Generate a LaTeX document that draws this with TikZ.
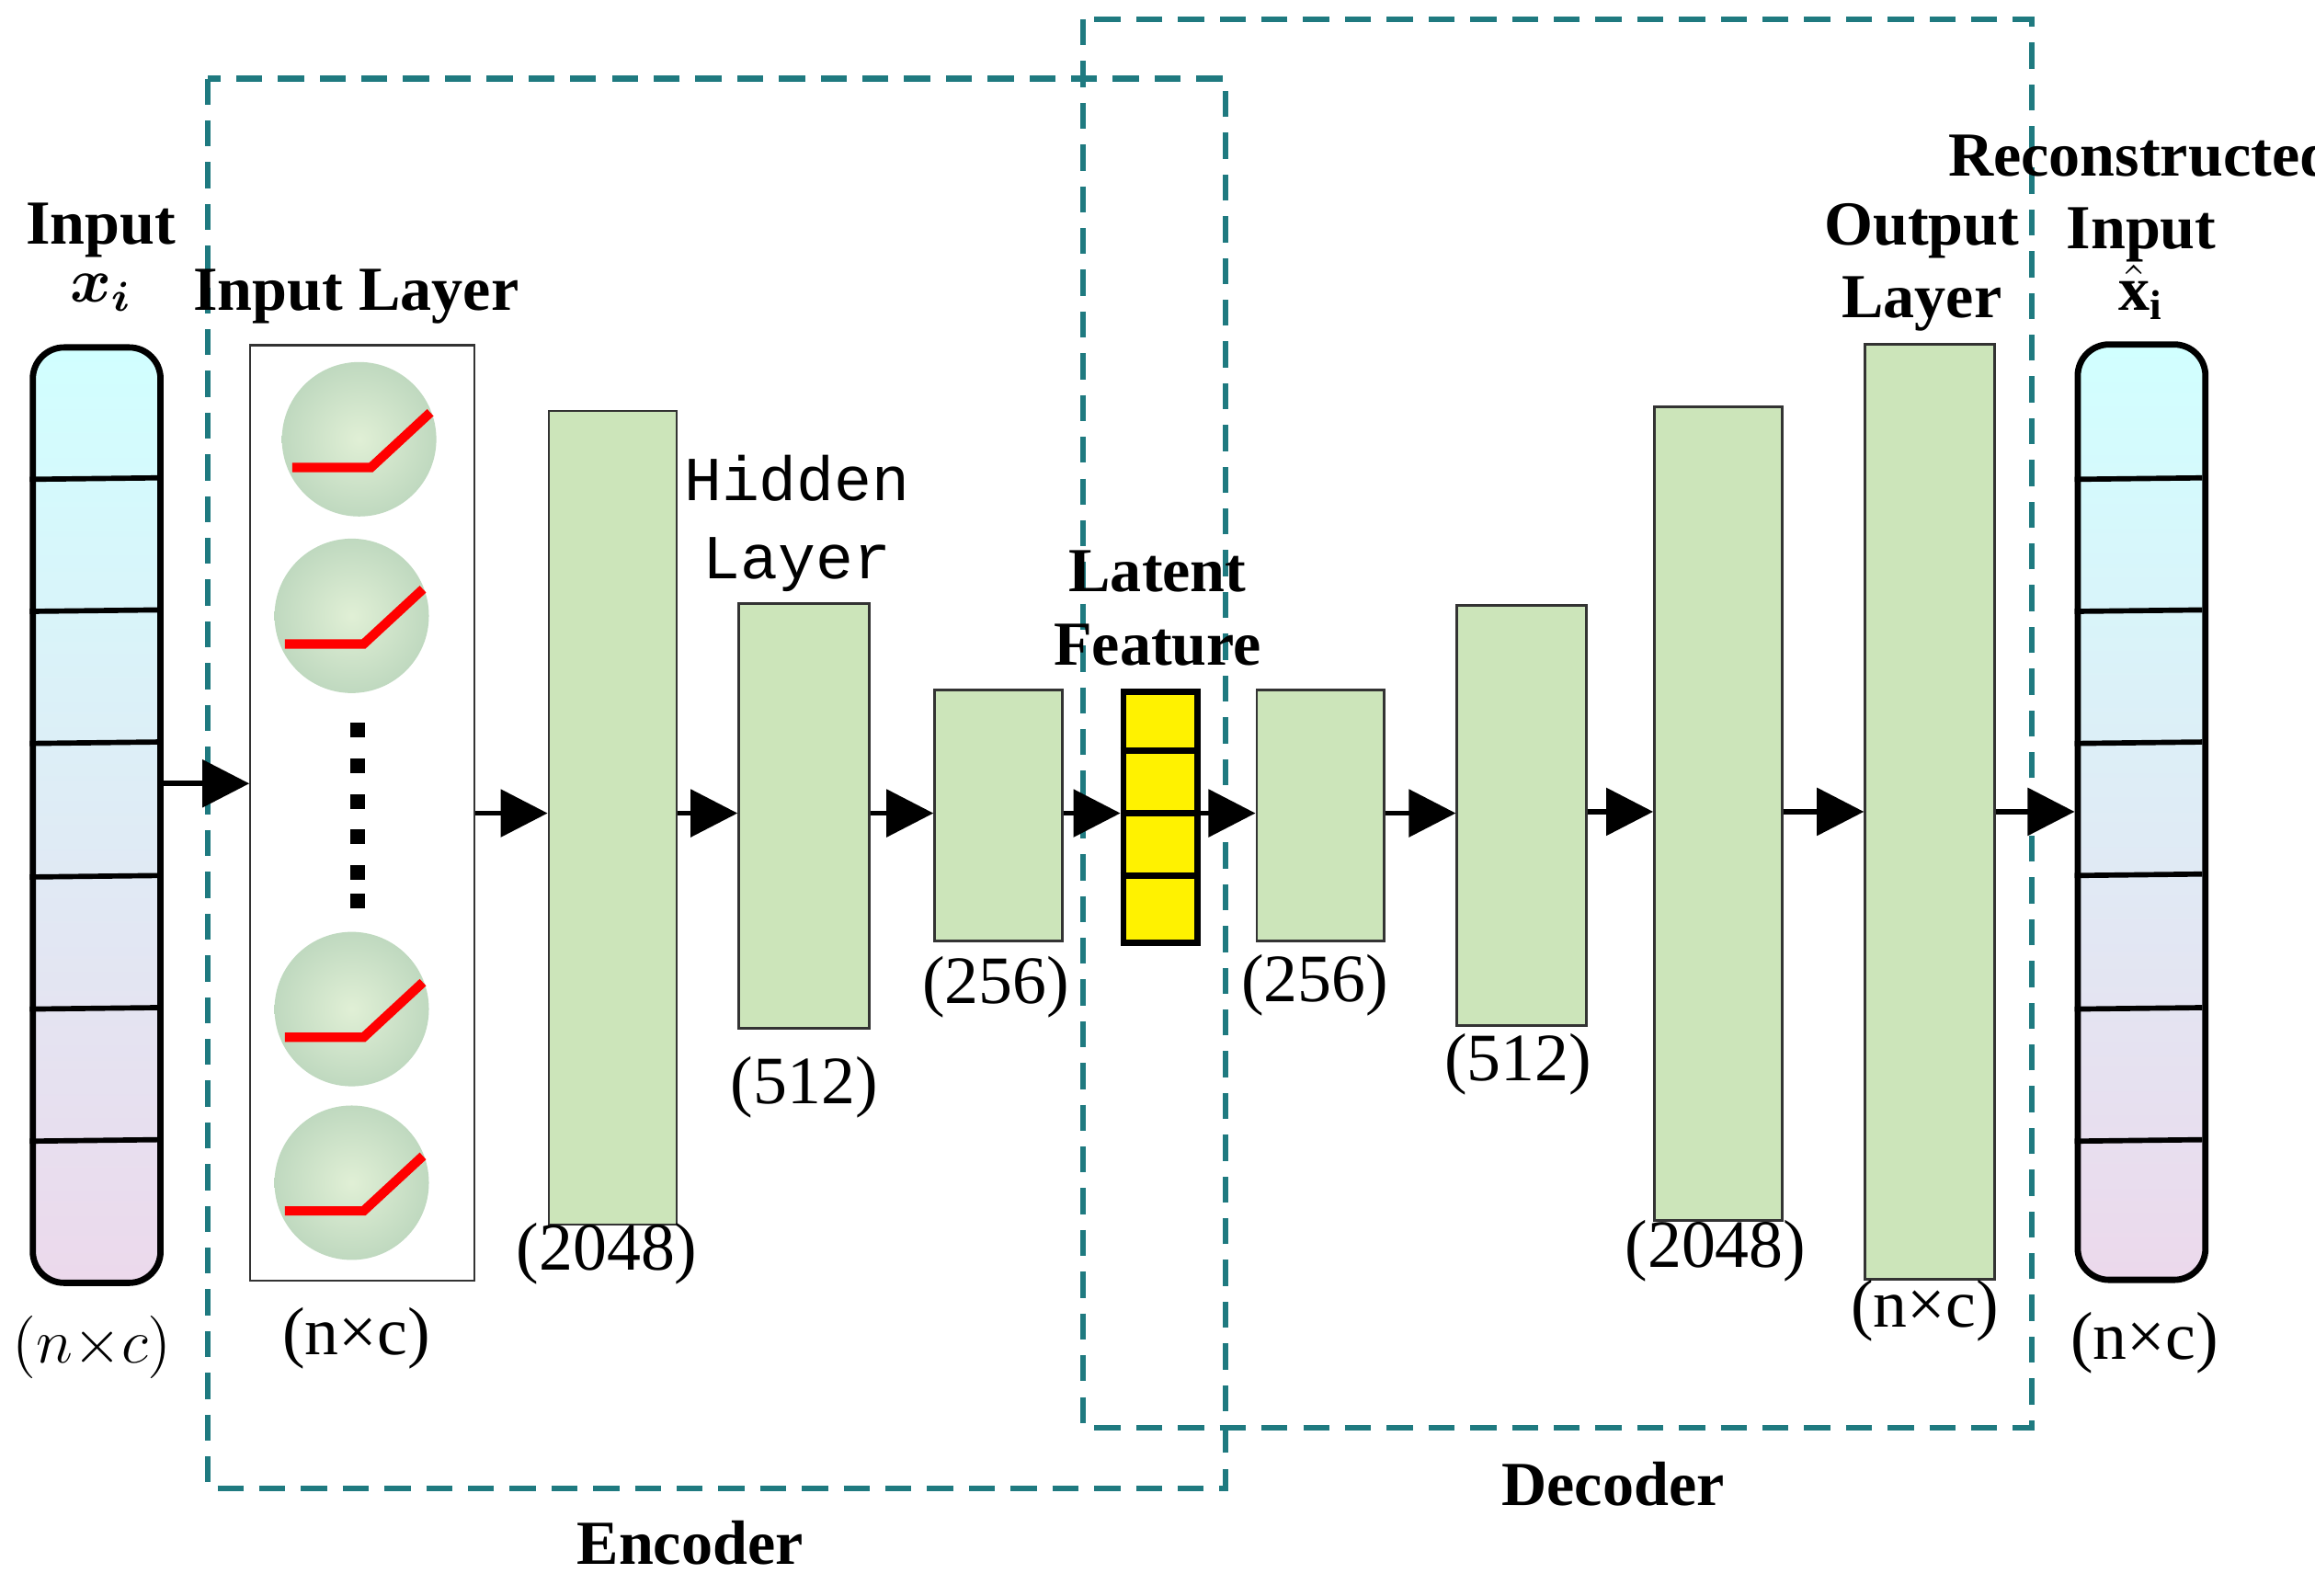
\documentclass[tikz,border=0pt]{standalone}
\usepackage{amsmath,bm}
\usepackage{fontspec}
\setmainfont{Liberation Serif}
\newfontfamily\hidfont{Liberation Mono}
\usetikzlibrary{arrows.meta,calc}
\definecolor{lg}{HTML}{CCE5BA}
\definecolor{teal}{HTML}{1F7A80}
\begin{document}
\begin{tikzpicture}[x=0.01cm,y=-0.01cm,
  layer/.style={draw=black!80,fill=lg,line width=0.5pt,anchor=north west,inner sep=0},
  bar/.style={draw=black,line width=1.2pt,rounded corners=6pt,anchor=north west,inner sep=0,top color=cyan!18,bottom color=violet!15},
  dbox/.style={draw=teal,dashed,line width=1.1pt,dash pattern=on 5pt off 3pt},
  arr/.style={-{Triangle[length=9pt,width=9pt]},line width=1pt},
  lab/.style={font=\fontsize{12}{14}\selectfont\bfseries,align=center},
  num/.style={font=\fontsize{13}{15}\selectfont},
  circ/.style={inner sep=0,minimum width=1.04cm,minimum height=1.0cm,circle,inner color=lg!60,outer color=green!40!black!25}]
\useasboundingbox (0,0) rectangle (1560,1075);
% dashed boxes
\draw[dbox] (140,53) rectangle (826,1003);
\draw[dbox] (730,13) rectangle (1369,962);
\node[lab] (enc) at (465,1040) {Encoder};
\node[lab] (dec) at (1087,1000) {Decoder};
% input bar
\node[bar,minimum width=0.86cm,minimum height=6.3cm] (inb) at (20,232) {};
\foreach \y in {323,412,501,591,680,769}{\draw[line width=1pt] (20,\y) -- (106,\y-1);}
\node[lab] (inl) at (68,155) {Input};
\node[lab] (inx) at (68,197) {$\bm{x_i}$};
\node[num] (inn) at (62,908) {$(n{\times}c)$};
% input layer
\node[draw=black!80,fill=white,anchor=north west,inner sep=0,minimum width=1.51cm,minimum height=6.3cm] (il) at (168,232) {};
\node[lab] (ill) at (240,200) {Input Layer};
\foreach \cx/\cy/\n in {242/296/c1,237/415/c2,237/680/c3,237/797/c4}{
  \node[circ] (\n) at (\cx,\cy) {};
  \draw[red,line width=1.8pt] (\cx-45,\cy+19) -- (\cx+8,\cy+19) -- (\cx+48,\cy-18);}
\foreach \y in {492,516,540,564,588,607}{\fill (236,\y-5) rectangle (246,\y+5);}
\node[num] (iln) at (240,902) {(n×c)};
% encoder layers
\node[layer,minimum width=0.86cm,minimum height=5.48cm] (e1) at (369,276) {};
\node[num] at (409,845) {(2048)};
\node[layer,minimum width=0.88cm,minimum height=2.86cm] (e2) at (497,406) {};
\node[font=\fontsize{12}{15}\selectfont\hidfont,align=center] at (537,353) {Hidden\\Layer};
\node[num] at (542,733) {(512)};
\node[layer,minimum width=0.86cm,minimum height=1.69cm] (e3) at (629,464) {};
\node[num] at (671,665) {(256)};
% latent
\node[draw=black,line width=1.2pt,fill=yellow,anchor=north west,inner sep=0,minimum width=0.5cm,minimum height=1.69cm] (lat) at (755,464) {};
\foreach \y in {506,548,590}{\draw[line width=1.2pt] (755,\y) -- (805,\y);}
\node[lab] at (780,410) {Latent\\Feature};
% decoder layers
\node[layer,minimum width=0.86cm,minimum height=1.69cm] (d1) at (846,464) {};
\node[num] at (886,664) {(256)};
\node[layer,minimum width=0.87cm,minimum height=2.83cm] (d2) at (981,407) {};
\node[num] at (1023,717) {(512)};
\node[layer,minimum width=0.86cm,minimum height=5.48cm] (d3) at (1114,273) {};
\node[num] at (1156,843) {(2048)};
\node[layer,minimum width=0.87cm,minimum height=6.3cm] (d4) at (1256,231) {};
\node[lab] at (1295,180) {Output\\Layer};
\node[num] at (1297,883) {(n×c)};
% output bar
\node[bar,minimum width=0.86cm,minimum height=6.3cm] (outb) at (1398,230) {};
\foreach \y in {322,411,500,589,679,768}{\draw[line width=1pt] (1398,\y+1) -- (1484,\y);}
\node[lab] at (1443,133) {Reconstructed\\Input};
\node[lab] at (1443,197) {$\bm{\hat{\mathrm{x}}_{\mathrm{i}}}$};
\node[num] at (1445,905) {(n×c)};
% arrows
\draw[arr] (inb.east|-0,528) -- (il.west|-0,528);
\draw[arr] (il.east|-0,548) -- (e1.west|-0,548);
\draw[arr] (e1.east|-0,548) -- (e2.west|-0,548);
\draw[arr] (e2.east|-0,548) -- (e3.west|-0,548);
\draw[arr] (e3.east|-0,548) -- (lat.west|-0,548);
\draw[arr] (lat.east|-0,548) -- (d1.west|-0,548);
\draw[arr] (d1.east|-0,548) -- (d2.west|-0,548);
\draw[arr] (d2.east|-0,547) -- (d3.west|-0,547);
\draw[arr] (d3.east|-0,547) -- (d4.west|-0,547);
\draw[arr] (d4.east|-0,547) -- (outb.west|-0,547);
\end{tikzpicture}
\end{document}
